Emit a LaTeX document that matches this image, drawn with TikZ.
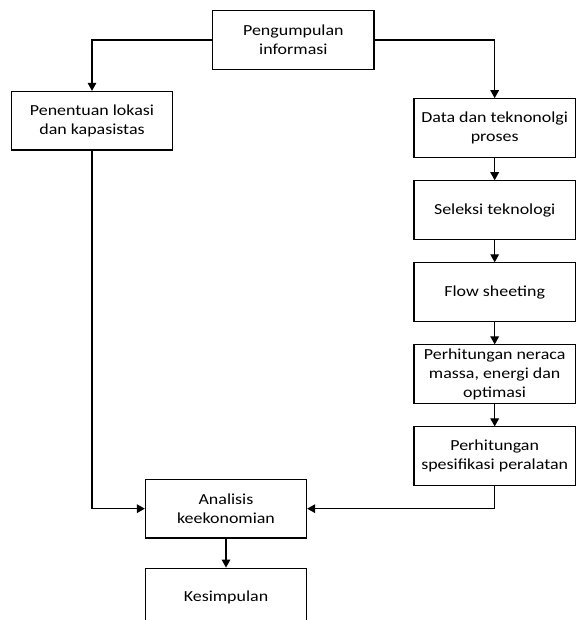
\documentclass[tikz,border=0pt]{standalone}
\usepackage{fontspec}
\setmainfont{Carlito}[FakeStretch=1.17]
\usepackage{tikz}
\usetikzlibrary{arrows.meta, positioning}
\tikzstyle{arrow} = [line width=0.8pt,-{Triangle[length=6pt,width=6.5pt]}]

\begin{document}
\begin{tikzpicture}[
    box/.style={rectangle, draw, line width=0.8pt, fill=white, minimum width=121pt, minimum height=44pt, inner sep=1pt, align=center, font=\fontsize{11.5pt}{14.25pt}\selectfont},
    node distance=16.75pt
  ]
    \useasboundingbox (0pt,0pt) rectangle (432pt,-465pt);

    % Top
    \node[box] (info) at (220pt,-30pt) {Pengumpulan\\informasi};

    % Left branch
    \node[box] (lokasi) at (69pt,-90.5pt) {Penentuan lokasi\\dan kapasistas};

    % Right branch
    \node[box] (data) at (371pt,-96pt) {Data dan teknonolgi\\proses};
    \node[box, below=of data] (seleksi) {Seleksi teknologi};
    \node[box, below=of seleksi] (flow) {Flow sheeting};
    \node[box, below=of flow] (neraca) {Perhitungan neraca\\massa, energi dan\\optimasi};
    \node[box, below=of neraca] (spek) {Perhitungan\\spesifikasi peralatan};

    % Bottom
    \node[box] (analisis) at (169.5pt,-381.5pt) {Analisis\\keekonomian};
    \node[box, below=21.75pt of analisis] (simpul) {Kesimpulan};

    \draw[arrow] (info.west) -| (lokasi.north);
    \draw[arrow] (info.east) -| (data.north);
    \draw[arrow] (data) -- (seleksi);
    \draw[arrow] (seleksi) -- (flow);
    \draw[arrow] (flow) -- (neraca);
    \draw[arrow] (neraca) -- (spek);
    \draw[arrow] (lokasi.south) |- (analisis.west);
    \draw[arrow] (spek.south) |- (analisis.east);
    \draw[arrow] (analisis) -- (simpul);
  \end{tikzpicture}
\end{document}
